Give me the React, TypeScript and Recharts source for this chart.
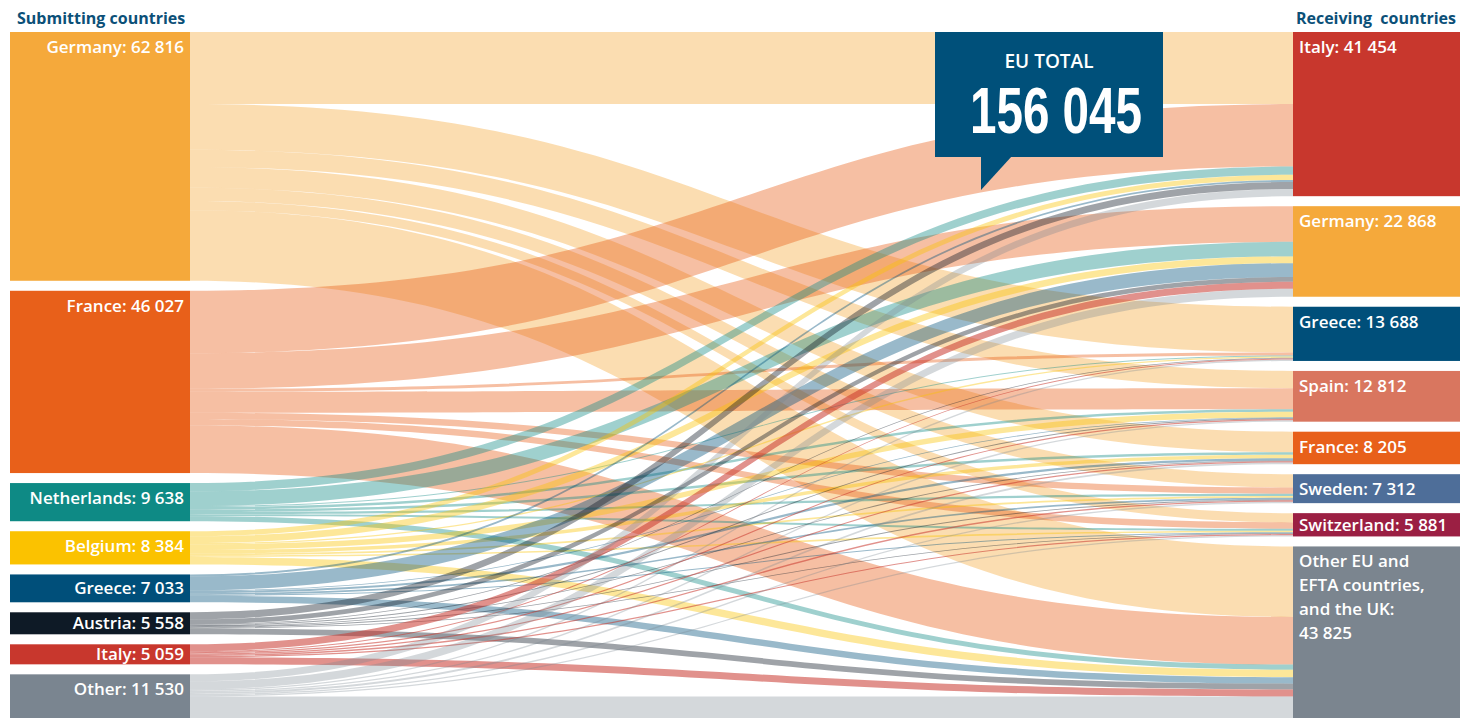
import React from 'react';
import { Sankey } from 'recharts';

const submitting = ['Germany', 'France', 'Netherlands', 'Belgium', 'Greece', 'Austria', 'Italy', 'Other'];
const submittingTotals = [62816, 46027, 9638, 8384, 7033, 5558, 5059, 11530];

const receiving = ['Italy', 'Germany', 'Greece', 'Spain', 'France', 'Sweden', 'Switzerland', 'Other EU and EFTA countries, and the UK'];
const receivingTotals = [41454, 22868, 13688, 12812, 8205, 7312, 5881, 43825];

// requests from each submitting country, in the order of `receiving`
const fromGermany = [18204, 0, 11538, 4362, 5205, 3362, 2331, 17814];
const fromFrance = [15750, 9000, 750, 5300, 0, 1600, 1600, 12027];
const fromNetherlands = [2100, 3700, 250, 650, 600, 550, 500, 1288];
const fromBelgium = [1300, 1700, 350, 1400, 900, 450, 400, 1884];
const fromGreece = [500, 3500, 0, 200, 550, 400, 250, 1633];
const fromAustria = [1800, 1200, 200, 250, 200, 250, 200, 1458];
const fromItaly = [0, 1768, 250, 300, 300, 350, 300, 1791];
const fromOther = [1800, 2000, 350, 350, 450, 350, 300, 5930];

const flows = [fromGermany, fromFrance, fromNetherlands, fromBelgium, fromGreece, fromAustria, fromItaly, fromOther];

const submittingColors = ['#F5A93B', '#E8601A', '#0E8A85', '#FBC200', '#004F7A', '#0E1A26', '#C8372D', '#7A8590'];
const submittingLinkOpacity = [0.4, 0.4, 0.4, 0.4, 0.4, 0.4, 0.55, 0.32];
const receivingColors = ['#C8372D', '#F5A93B', '#004F7A', '#D9765F', '#E8601A', '#4E6E99', '#9B1F43', '#7B858F'];

const FONT = "'Open Sans', sans-serif";
const TITLE_BLUE = '#0B5078';
const RIGHT_NODE_WIDTH = 167;

const nodes = [
  ...submitting.map((name, i) => ({ name, total: submittingTotals[i], color: submittingColors[i], linkOpacity: submittingLinkOpacity[i] })),
  ...receiving.map((name, i) => ({ name, total: receivingTotals[i], color: receivingColors[i], linkOpacity: 0.4 })),
];

const links: { source: number; target: number; value: number }[] = [];
flows.forEach((row, s) => {
  row.forEach((value, t) => {
    if (value > 0) links.push({ source: s, target: submitting.length + t, value });
  });
});

const fmt = (n: number) => String(n).replace(/\B(?=(\d{3})+(?!\d))/g, ' ');

const wrap = (text: string, max: number) => {
  const out: string[] = [];
  let line = '';
  text.split(' ').forEach((w) => {
    if (line && (line + ' ' + w).length > max) {
      out.push(line);
      line = w;
    } else {
      line = line ? line + ' ' + w : w;
    }
  });
  if (line) out.push(line);
  return out;
};

const labelLines = (name: string, total: number) => {
  if (name.length > 20) return [...wrap(name + ':', 15), fmt(total)];
  return [`${name}: ${fmt(total)}`];
};

const renderNode = (props: any) => {
  const { x, y, width, height, payload } = props;
  const left = payload.depth === 0;
  const w = left ? width : RIGHT_NODE_WIDTH;
  const lines = labelLines(payload.name, payload.total);
  const tx = left ? x + w - 6 : x + 6;
  const baseline = y + Math.min(21, height / 2 + 6);
  return (
    <g>
      <rect x={x} y={y} width={w} height={height} fill={payload.color} />
      <text
        x={tx}
        y={baseline}
        textAnchor={left ? 'end' : 'start'}
        fill="#fff"
        fontFamily={FONT}
        fontSize={17}
        fontWeight={600}
      >
        {lines.map((l, i) => (
          <tspan key={i} x={tx} dy={i ? 24 : 0}>
            {l}
          </tspan>
        ))}
      </text>
    </g>
  );
};

const renderLink = (props: any) => {
  const { sourceX, targetX, sourceY, targetY, sourceControlX, targetControlX, linkWidth, payload } = props;
  const h = linkWidth / 2;
  const d =
    `M${sourceX},${sourceY - h} C${sourceControlX},${sourceY - h} ${targetControlX},${targetY - h} ${targetX},${targetY - h}` +
    ` L${targetX},${targetY + h} C${targetControlX},${targetY + h} ${sourceControlX},${sourceY + h} ${sourceX},${sourceY + h} Z`;
  return <path d={d} fill={payload.source.color} fillOpacity={payload.source.linkOpacity} stroke="none" />;
};

const App: React.FC = () => {
  return (
    <div style={{ position: 'absolute', left: 0, top: 0, width: 1460, height: 718, overflow: 'hidden', background: '#fff' }}>
      <Sankey
        width={1473}
        height={720}
        data={{ nodes, links }}
        margin={{ top: 32, left: 10, right: 0, bottom: 0 }}
        nodeWidth={180}
        nodePadding={10}
        iterations={0}
        node={renderNode}
        link={renderLink}
      />
      <svg width={1460} height={718} style={{ position: 'absolute', left: 0, top: 0, pointerEvents: 'none' }}>
        <text x={17} y={24} fill={TITLE_BLUE} fontFamily={FONT} fontSize={16} fontWeight={700}>
          Submitting countries
        </text>
        <text x={1456} y={24} textAnchor="end" fill={TITLE_BLUE} fontFamily={FONT} fontSize={16} fontWeight={700} style={{ whiteSpace: 'pre' }}>
          Receiving  countries
        </text>
        <rect x={935} y={32} width={228} height={125} fill="#00507A" />
        <polygon points="981,156 1012,156 981,190" fill="#00507A" />
        <text x={1049} y={68} textAnchor="middle" fill="#fff" fontFamily={FONT} fontSize={19} fontWeight={600}>
          EU TOTAL
        </text>
        <text
          x={1056}
          y={133}
          textAnchor="middle"
          fill="#fff"
          fontFamily="'Liberation Sans', Arial, sans-serif"
          fontSize={65}
          fontWeight={700}
          textLength={172}
          lengthAdjust="spacingAndGlyphs"
        >
          156 045
        </text>
      </svg>
    </div>
  );
};

export default App;
